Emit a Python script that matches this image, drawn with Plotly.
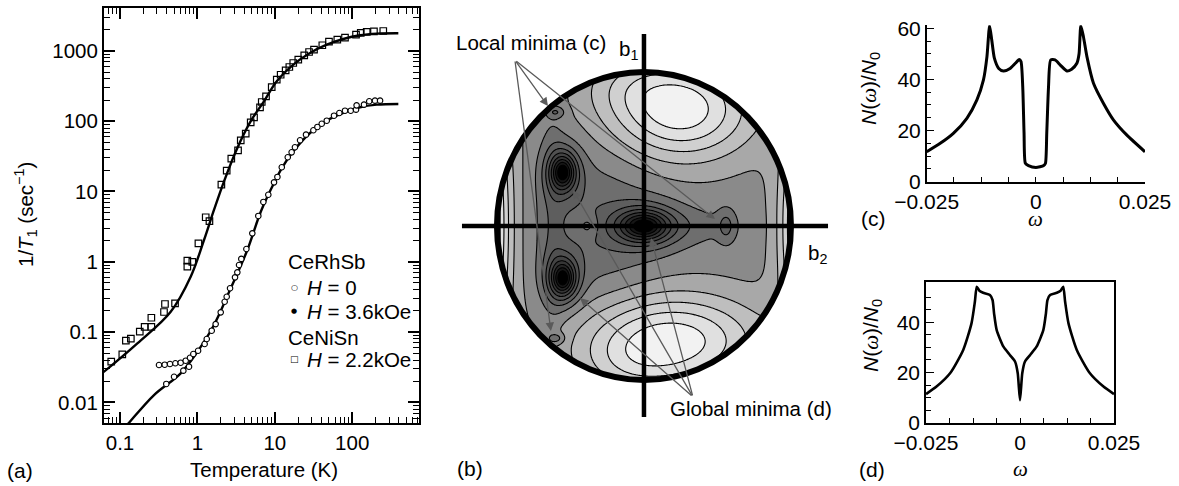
import numpy as np
import plotly.graph_objects as go

W, H = 1179, 486
FONT = "Liberation Sans"


def px(x):
    return x / W


def py(y):
    return 1 - y / H


# ---------------- (a) 1/T1 versus temperature ----------------
cenisn_T = [0.077, 0.107, 0.119, 0.138, 0.180, 0.208, 0.254, 0.254, 0.370, 0.381,
            0.514, 0.741, 0.741, 0.859, 1.03, 1.28, 1.43, 2.04, 2.39, 2.74,
            3.35, 3.63, 4.21, 4.88, 5.39, 6.44, 6.78, 7.7, 9.12, 10.6,
            11.9, 13.8, 15.4, 17.3, 20.1, 24.0, 27.7, 32.1, 41.1, 50.1,
            64.2, 80.7, 112, 129, 154, 191, 252]
cenisn_rate = [0.0379, 0.0483, 0.0755, 0.0805, 0.1014, 0.119, 0.119, 0.160, 0.193, 0.251,
               0.257, 0.851, 1.04, 1.0, 1.83, 4.3, 3.8, 12.5, 19.8, 29.3,
               38.5, 53.5, 66.4, 96.4, 113.5, 157.6, 187.6, 226, 306, 389,
               458, 529, 590, 673, 750, 865, 964, 1040, 1202, 1352,
               1443, 1541, 1700, 1798, 1858, 1900, 1918]

cerhsb_T = [0.319, 0.378, 0.442, 0.519, 0.608, 0.706, 0.802, 0.885, 1.02,
            0.396, 0.499, 0.658, 0.779, 1.24, 1.32, 1.53, 1.72, 2.0, 2.25,
            2.39, 2.64, 3.06, 3.28, 3.45, 3.69, 4.29, 5.12, 6.12, 7.11,
            8.24, 9.77, 10.8, 12.3, 14.7, 16.5, 18.2, 21.2, 25.3, 31.5,
            35.5, 40.4, 46.9, 58.2, 68.2, 80.7, 95.7, 112, 114, 142,
            166, 197, 229]
cerhsb_rate = [0.034, 0.0344, 0.0352, 0.036, 0.0367, 0.0392, 0.0432, 0.0488, 0.0543,
               0.0183, 0.0232, 0.0283, 0.0322, 0.0677, 0.0798, 0.1047, 0.130, 0.191, 0.270,
               0.318, 0.42, 0.601, 0.708, 0.90, 1.1, 1.52, 2.54, 4.49, 7.1,
               9.0, 13.5, 16.1, 22.1, 30.7, 36.1, 42.6, 53.5, 64.3, 74.3,
               82.8, 92, 101.6, 119.7, 130.9, 141, 141, 146, 168, 172,
               192, 196, 196]

# model curves, stored as log10 values
fit_cenisn_logT = [-1.25, -1.207, -0.776, -0.345, -0.087, 0.085, 0.214, 0.344, 0.516,
                   0.689, 0.860, 1.025, 1.239, 1.455, 1.671, 1.885, 2.101, 2.317, 2.596]
fit_cenisn_logR = [-1.60, -1.563, -1.160, -0.710, -0.212, 0.310, 0.737, 1.145, 1.619,
                   2.0, 2.283, 2.568, 2.804, 2.970, 3.088, 3.169, 3.222, 3.245, 3.250]
fit_cerhsb_logT = [-0.95, -0.884, -0.561, -0.216, 0.0, 0.214, 0.430, 0.645, 0.787,
                   0.852, 0.990, 1.089, 1.239, 1.455, 1.671, 1.885, 2.101, 2.317, 2.596]
fit_cerhsb_logR = [-2.37, -2.289, -1.895, -1.586, -1.279, -0.899, -0.377, 0.168, 0.62,
                   0.80, 1.12, 1.33, 1.572, 1.832, 2.007, 2.117, 2.198, 2.235, 2.245]

# ---------------- (b) energy landscape over the (b2, b1) disc ----------------
# each feature: centre (u=b2, v=b1), amplitude, widths, shape exponent
feat_u = [0.0, -0.55, -0.55, -0.32, -0.38, 0.35, -0.62, 0.56, -0.60, -0.60,
          0.245, 0.18, -0.10, -0.10, -1.25, 1.22]
feat_v = [0.0, 0.35, -0.34, 0.0, 0.0, 0.0, 0.0, 0.0, 0.74, -0.73,
          0.755, -0.745, 0.92, -0.92, 0.0, 0.0]
feat_amp = [-8.5, -8.5, -8.5, -1.3, 1.2, -0.7, -0.9, -1.5, -1.5, -1.5,
            5.2, 5.2, 1.0, 1.0, 15.0, 12.0]
feat_wu = [0.17, 0.085, 0.085, 0.42, 0.07, 0.30, 0.08, 0.06, 0.06, 0.06,
           0.49, 0.60, 0.35, 0.35, 0.25, 0.22]
feat_wv = [0.10, 0.12, 0.12, 0.50, 0.07, 0.12, 0.80, 0.11, 0.035, 0.035,
           0.324, 0.30, 0.20, 0.20, 0.90, 0.70]
feat_pow = [1.5, 1.5, 1.5, 2, 2, 2, 2, 2, 2, 2, 2, 2, 2, 2, 2, 2]

band_colors = ["#000000", "#161616", "#262626", "#353535", "#434343", "#505050",
               "#5e5e5e", "#6e6e6e", "#8a8a8a", "#a8a8a8", "#bebebe", "#d0d0d0",
               "#e0e0e0", "#f2f2f2", "#f6f6f6"]

# panel (b) arrows: (tail, head) pairs in (b2, b1) units
local_tail = (-0.878, 1.078)
local_heads_u = [-0.653, 0.483, -0.633]
local_heads_v = [0.779, 0.045, -0.682]
global_tail = (0.333, -1.110)
global_heads_u = [0.048, -0.483, -0.435]
global_heads_v = [-0.078, 0.234, -0.468]

# ---------------- (c), (d) density of states ----------------
dos_c_omega = [-0.025, -0.0219, -0.0189, -0.0158, -0.0135, -0.0120, -0.0112, -0.0106,
               -0.0101, -0.0095, -0.0085, -0.0074, -0.0059, -0.0047, -0.0038, -0.0034,
               -0.0030, -0.0027, -0.0024, -0.0017, 0.0, 0.0018, 0.0022, 0.0025,
               0.0029, 0.0034, 0.0044, 0.0056, 0.0071, 0.0082, 0.0094, 0.0099,
               0.0103, 0.0109, 0.0117, 0.0132, 0.0155, 0.0178, 0.0208, 0.025]
dos_c_value = [11.7, 15.0, 18.9, 24.8, 32.0, 39.8, 48.9, 61.0,
               55.4, 48.3, 44.3, 43.3, 44.3, 46.3, 47.8, 47.0,
               37.0, 19.0, 7.2, 6.3, 5.6, 6.3, 7.2, 19.0,
               37.0, 47.6, 47.6, 45.6, 43.3, 44.0, 46.3, 50.0,
               61.0, 56.7, 48.9, 38.5, 30.6, 24.1, 18.3, 11.7]

dos_d_omega = [-0.025, -0.0222, -0.0186, -0.0151, -0.0129, -0.0120, -0.0115, -0.0108,
               -0.0098, -0.0080, -0.0073, -0.0069, -0.0062, -0.0044, -0.0027, -0.0013,
               -0.0006, 0.0, 0.0006, 0.0013, 0.0027, 0.0044, 0.0062, 0.0069,
               0.0073, 0.0080, 0.0098, 0.0108, 0.0115, 0.0120, 0.0129, 0.0151,
               0.0186, 0.0222, 0.025]
dos_d_value = [11.4, 14.4, 19.7, 29.0, 39.6, 48.2, 54.2, 52.6,
               51.8, 50.9, 48.9, 43.6, 36.9, 30.3, 27.0, 24.3,
               19.7, 9.0, 19.7, 24.3, 27.0, 30.3, 36.9, 43.6,
               48.9, 50.9, 51.8, 52.6, 54.2, 48.2, 39.6, 29.0,
               19.7, 14.4, 11.4]

fig = go.Figure()

# ---- (a) traces
fig.add_trace(go.Scatter(x=[10 ** t for t in fit_cenisn_logT], y=[10 ** r for r in fit_cenisn_logR],
                         mode="lines", line=dict(color="black", width=2.4, shape="spline"),
                         xaxis="x", yaxis="y", showlegend=False, hoverinfo="skip"))
fig.add_trace(go.Scatter(x=[10 ** t for t in fit_cerhsb_logT], y=[10 ** r for r in fit_cerhsb_logR],
                         mode="lines", line=dict(color="black", width=2.4, shape="spline"),
                         xaxis="x", yaxis="y", showlegend=False, hoverinfo="skip"))
fig.add_trace(go.Scatter(x=cenisn_T, y=cenisn_rate, mode="markers",
                         marker=dict(symbol="square-open", size=6.5, color="black", line=dict(width=1.2)),
                         xaxis="x", yaxis="y", showlegend=False))
fig.add_trace(go.Scatter(x=cerhsb_T, y=cerhsb_rate, mode="markers",
                         marker=dict(symbol="circle", size=5.5, color="white",
                                     line=dict(color="black", width=1.1)),
                         xaxis="x", yaxis="y", showlegend=False))

# ---- (b) filled contour map
gu = np.linspace(-1.03, 1.03, 261)
gv = np.linspace(-1.03, 1.03, 261)
GU, GV = np.meshgrid(gu, gv)
field = np.zeros_like(GU)
for cu, cv, amp, wu, wv, pw in zip(feat_u, feat_v, feat_amp, feat_wu, feat_wv, feat_pow):
    r = np.sqrt(((GU - cu) / wu) ** 2 + ((GV - cv) / wv) ** 2)
    field += amp * np.exp(-r ** pw)
field = np.clip(field, -8.4, 6.4)

n_band = len(band_colors)
colorscale = [[k / (n_band - 1), c] for k, c in enumerate(band_colors)]
fig.add_trace(go.Contour(x=gu, y=gv, z=field, xaxis="x2", yaxis="y2",
                         contours=dict(start=-7.5, end=5.5, size=1, coloring="fill"),
                         colorscale=colorscale, showscale=False,
                         line=dict(color="black", width=1.1, smoothing=1.0),
                         hoverinfo="skip"))

# ---- (c), (d) curves
fig.add_trace(go.Scatter(x=dos_c_omega, y=dos_c_value, mode="lines",
                         line=dict(color="black", width=3, shape="spline", smoothing=0.6),
                         xaxis="x3", yaxis="y3", showlegend=False, hoverinfo="skip"))
fig.add_trace(go.Scatter(x=dos_d_omega, y=dos_d_value, mode="lines",
                         line=dict(color="black", width=2.6, shape="spline", smoothing=0.6),
                         xaxis="x4", yaxis="y4", showlegend=False, hoverinfo="skip"))

# ---------------- axes ----------------
minor_log = [m * 10 ** e for e in range(-3, 4) for m in range(2, 10)]
tick_a = dict(family=FONT, size=20.5, color="black")
tick_cd = dict(family=FONT, size=21, color="black")
common = dict(showgrid=False, zeroline=False, showline=True, linecolor="black", ticks="inside",
              tickcolor="black", automargin=False)

layout_axes = dict(
    xaxis=dict(common, type="log", domain=[px(104), px(419)], range=[-1.207, 2.863],
               tickvals=[0.1, 1, 10, 100], ticktext=["0.1", "1", "10", "100"],
               ticklen=11, tickwidth=1.5, linewidth=2, mirror="allticks", anchor="y",
               minor=dict(tickvals=minor_log, ticks="inside", ticklen=6, tickwidth=1.2, tickcolor="black"),
               tickfont=tick_a),
    yaxis=dict(common, type="log", domain=[py(423), py(8)], range=[-2.293, 3.610],
               tickvals=[0.01, 0.1, 1, 10, 100, 1000], ticktext=["0.01", "0.1", "1", "10", "100", "1000"],
               ticklen=11, tickwidth=1.5, linewidth=2, mirror="allticks", anchor="x",
               minor=dict(tickvals=minor_log, ticks="inside", ticklen=6, tickwidth=1.2, tickcolor="black"),
               tickfont=tick_a),
    xaxis2=dict(domain=[px(458), px(832)], range=[-1.265, 1.279], visible=False, anchor="y2",
                automargin=False),
    yaxis2=dict(domain=[py(422), py(30)], range=[-1.273, 1.273], visible=False, anchor="x2",
                automargin=False),
    xaxis3=dict(common, domain=[px(926.7), px(1145)], range=[-0.025, 0.025],
                tickvals=[-0.025, 0, 0.025], ticktext=["\u22120.025", "0", "0.025"],
                ticklen=5, tickwidth=1.3, linewidth=1.5, anchor="y3",
                minor=dict(tickvals=[-0.01875, -0.0125, -0.00625, 0.00625, 0.0125, 0.01875],
                           ticks="inside", ticklen=5, tickwidth=1.3, tickcolor="black"),
                tickfont=tick_cd),
    yaxis3=dict(common, domain=[py(181.7), py(25.2)], range=[0, 61.2],
                tickvals=[0, 20, 40, 60], ticklen=8, tickwidth=1.3, linewidth=1.5, anchor="x3",
                minor=dict(tickvals=[5, 10, 15, 25, 30, 35, 45, 50, 55], ticks="inside",
                           ticklen=5, tickwidth=1.1, tickcolor="black"),
                tickfont=tick_cd),
    xaxis4=dict(common, domain=[px(926), px(1114)], range=[-0.025, 0.025],
                tickvals=[-0.025, 0, 0.025], ticktext=["\u22120.025", "0", "0.025"],
                ticklen=5, tickwidth=1.3, linewidth=1.5, mirror=True, anchor="y4",
                minor=dict(tickvals=[-0.01875, -0.0125, -0.00625, 0.00625, 0.0125, 0.01875],
                           ticks="inside", ticklen=5, tickwidth=1.3, tickcolor="black"),
                tickfont=tick_cd),
    yaxis4=dict(common, domain=[py(422.7), py(281.7)], range=[0, 56.2],
                tickvals=[0, 20, 40], ticklen=8, tickwidth=1.3, linewidth=1.5, mirror=True, anchor="x4",
                minor=dict(tickvals=[5, 10, 15, 25, 30, 35, 45, 50], ticks="inside",
                           ticklen=5, tickwidth=1.1, tickcolor="black"),
                tickfont=tick_cd),
)

# ---------------- shapes for (b) ----------------
theta = np.linspace(0, 2 * np.pi, 241)
ring = " ".join(("M" if i == 0 else "L") + f" {np.cos(t):.4f},{np.sin(t):.4f}" for i, t in enumerate(theta))
mask_path = "M -1.5,-1.5 L 1.5,-1.5 L 1.5,1.5 L -1.5,1.5 Z " + ring + " Z"
shapes = [
    dict(type="path", path=mask_path, xref="x2", yref="y2", fillcolor="white",
         fillrule="evenodd", line=dict(width=0), layer="above"),
    dict(type="circle", xref="x2", yref="y2", x0=-1, x1=1, y0=-1, y1=1,
         line=dict(color="black", width=6), layer="above"),
    dict(type="line", xref="x2", yref="y2", x0=-1.238, x1=1.252, y0=0, y1=0,
         line=dict(color="black", width=4.5), layer="above"),
    dict(type="line", xref="x2", yref="y2", x0=0, x1=0, y0=-1.24, y1=1.247,
         line=dict(color="black", width=4.5), layer="above"),
]

# ---------------- annotations ----------------
ann = []


def text(x, y, s, size=20.5, xa="center", ya="middle", angle=0, family=FONT):
    ann.append(dict(x=px(x), y=py(y), xref="paper", yref="paper", text=s, showarrow=False,
                    xanchor=xa, yanchor=ya, textangle=angle,
                    font=dict(family=family, size=size, color="black")))


omega = "<span style='font-family:Liberation Serif'><i>\u03c9</i></span>"

# (a)
text(5, 470, "(a)", 21, xa="left")
text(264, 469, "Temperature (K)", 20.5)
text(25, 215, "1/<i>T</i><sub>1</sub> (sec<sup>\u22121</sup>)", 20.5, angle=-90)
text(286, 261, "CeRhSb", 20.5, xa="left")
text(294, 287, "\u25cb", 8, family="DejaVu Sans")
text(305, 287, "<i>H</i> = 0", 20.5, xa="left")
text(294, 311, "\u25cf", 7, family="DejaVu Sans")
text(305, 311, "<i>H</i> = 3.6kOe", 20.5, xa="left")
text(286, 337, "CeNiSn", 20.5, xa="left")
text(294, 359, "\u25a1", 9, family="DejaVu Sans")
text(305, 359, "<i>H</i> = 2.2kOe", 20.5, xa="left")

# (b)
text(454, 43, "Local minima (c)", 20.5, xa="left")
text(617, 50, "b<sub>1</sub>", 20.5, xa="left")
text(806, 254, "b<sub>2</sub>", 20.5, xa="left")
text(668, 408, "Global minima (d)", 20.5, xa="left")
text(455, 468, "(b)", 21, xa="left")

for hu, hv in zip(local_heads_u, local_heads_v):
    ann.append(dict(x=hu, y=hv, xref="x2", yref="y2", ax=local_tail[0], ay=local_tail[1],
                    axref="x2", ayref="y2", text="", showarrow=True, arrowhead=2,
                    arrowsize=1.3, arrowwidth=1.3, arrowcolor="#5a5a5a", standoff=0))
for hu, hv in zip(global_heads_u, global_heads_v):
    ann.append(dict(x=hu, y=hv, xref="x2", yref="y2", ax=global_tail[0], ay=global_tail[1],
                    axref="x2", ayref="y2", text="", showarrow=True, arrowhead=2,
                    arrowsize=1.3, arrowwidth=1.3, arrowcolor="#5a5a5a", standoff=0))

# (c)
text(859, 218, "(c)", 21, xa="left")
text(1035.7, 219, omega, 21)
text(870, 89, "<i>N</i>(" + omega + ")/<i>N</i><sub>0</sub>", 21, angle=-90)
# (d)
text(857, 469, "(d)", 21, xa="left")
text(1020, 469, omega, 21)
text(872, 335, "<i>N</i>(" + omega + ")/<i>N</i><sub>0</sub>", 21, angle=-90)

fig.update_layout(
    template="none",
    width=W, height=H, margin=dict(l=0, r=0, t=0, b=0, autoexpand=False),
    paper_bgcolor="white", plot_bgcolor="white",
    showlegend=False, shapes=shapes, annotations=ann,
    font=dict(family=FONT, color="black"),
    **layout_axes,
)

fig.write_html("out.html")
